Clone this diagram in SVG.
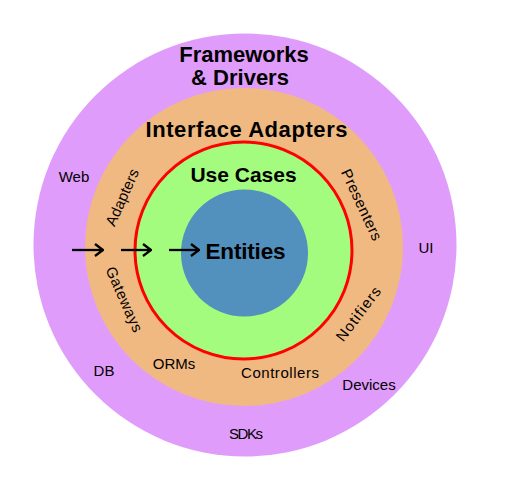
<svg xmlns="http://www.w3.org/2000/svg" width="514" height="486" viewBox="0 0 514 486">
<style>
.t{font-family:"Liberation Sans",Arial,sans-serif;fill:#000;text-anchor:middle}
.h{font-weight:bold}
.s{font-size:15px}
.arr{stroke:#000;stroke-width:2.3;fill:none}
</style>
<defs>
<marker id="chev" viewBox="0 0 10 14" refX="9" refY="7" markerWidth="10" markerHeight="14" markerUnits="userSpaceOnUse" orient="auto">
<path d="M1,1 L9,7 L1,13" fill="none" stroke="#000" stroke-width="2.3"/>
</marker>
</defs>
<rect width="514" height="486" fill="#fff"/>
<g id="frameworks-drivers">
<circle cx="245" cy="245" r="211.5" fill="#E09CFA"/>
<text class="t h" x="244" y="62" font-size="22">Frameworks</text>
<text class="t h" x="240" y="85" font-size="22">&amp; Drivers</text>
<text class="t s" x="74" y="182">Web</text>
<text class="t s" x="426" y="253">UI</text>
<text class="t s" x="104" y="376">DB</text>
<text class="t s" x="369" y="390">Devices</text>
<text class="t s" x="246" y="439" textLength="34">SDKs</text>
</g>
<g id="interface-adapters">
<circle cx="244" cy="247" r="159" fill="#F0B982"/>
<text class="t h" x="246.5" y="137" font-size="22" textLength="202">Interface Adapters</text>
<text class="t s" transform="translate(127,199.5) rotate(-66)" textLength="61">Adapters</text>
<text class="t s" transform="translate(119.5,301.5) rotate(66)" textLength="70">Gateways</text>
<text class="t s" transform="translate(357,207) rotate(65)" textLength="77">Presenters</text>
<text class="t s" transform="translate(362.5,317) rotate(-53)" textLength="64">Notifiers</text>
<text class="t s" x="174" y="369">ORMs</text>
<text class="t s" x="280" y="377.5" textLength="78">Controllers</text>
</g>
<g id="use-cases">
<circle cx="243.5" cy="250.5" r="108.5" fill="#A3FC7E" stroke="#FF0000" stroke-width="3"/>
<text class="t h" x="243.5" y="181.5" font-size="21">Use Cases</text>
</g>
<g id="entities">
<circle cx="244.5" cy="253" r="63.5" fill="#5290BE"/>
<text class="t h" x="245.5" y="258.5" font-size="22.5" textLength="80">Entities</text>
</g>
<g id="connectors">
<line class="arr" x1="72" y1="250" x2="103" y2="250" marker-end="url(#chev)"/>
<line class="arr" x1="121" y1="250" x2="151" y2="250" marker-end="url(#chev)"/>
<line class="arr" x1="169" y1="250" x2="199" y2="250" marker-end="url(#chev)"/>
</g>
</svg>
